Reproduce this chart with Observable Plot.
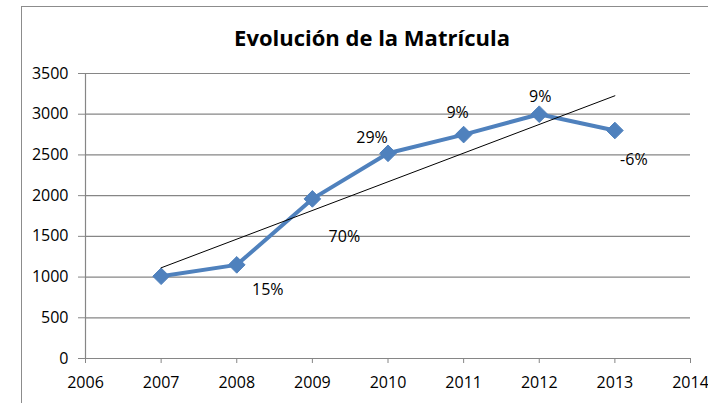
<!DOCTYPE html>
<html>
<head>
<meta charset="utf-8">
<script src="https://cdn.jsdelivr.net/npm/d3@7"></script>
<script src="https://cdn.jsdelivr.net/npm/@observablehq/plot@0.6"></script>
<style>
  html, body { margin: 0; padding: 0; background: #fff; overflow: hidden; }
  #wrap { position: relative; width: 708px; height: 403px; }
  #frame { position: absolute; left: 21px; top: 6px; width: 800px; height: 500px; border: 1px solid #8c8c8c; box-sizing: border-box; }
  #title { position: absolute; left: 0; width: 744px; top: 22px; line-height: 30px; text-align: center; font: bold 22px "Open Sans", sans-serif; color: #000; }
  #chart { position: absolute; left: 0; top: 0; }
</style>
</head>
<body>
<div id="wrap">
  <div id="frame"></div>
  <div id="title">Evolución de la Matrícula</div>
  <div id="chart"></div>
</div>
<script>
const years = [2007, 2008, 2009, 2010, 2011, 2012, 2013];
const enrollment = [1010, 1150, 1960, 2520, 2750, 3000, 2800];
const growthLabels = ["", "15%", "70%", "29%", "9%", "9%", "-6%"];
const xTicks = [2006, 2007, 2008, 2009, 2010, 2011, 2012, 2013, 2014];
const yTicks = [0, 500, 1000, 1500, 2000, 2500, 3000, 3500];

// label offsets (px) relative to each point — styling only
const labelDx = [0, 31, 32, -16, -6, 1, 19];
const labelDy = [0, 25, 38, -15, -22, -17, 29];

const data = years.map((y, i) => ({year: y, value: enrollment[i], label: growthLabels[i], dx: labelDx[i], dy: labelDy[i]}));

const font = "Open Sans, sans-serif";
const blue = "#4f81bd";

const chart = Plot.plot({
  width: 708,
  height: 403,
  marginLeft: 85,
  marginRight: 18,
  marginTop: 73,
  marginBottom: 45,
  style: {background: "transparent", fontFamily: font, fontSize: "16px", color: "#000", overflow: "visible"},
  x: {domain: [2006, 2014], label: null},
  y: {domain: [0, 3500], label: null},
  marks: [
    Plot.ruleY(yTicks.filter(d => d > 0), {stroke: "#868686", strokeWidth: 1.2}),
    Plot.axisY({ticks: yTicks, tickFormat: d => String(d), tickSize: 7, tickPadding: 10, stroke: "#868686", fill: "#000", fontSize: 16, label: null}),
    Plot.axisX({ticks: xTicks, tickFormat: d => String(d), tickSize: 5, tickPadding: 13, stroke: "#868686", fill: "#000", fontSize: 16, label: null}),
    Plot.ruleX([2006], {stroke: "#868686", strokeWidth: 1.2}),
    Plot.ruleY([0], {stroke: "#868686", strokeWidth: 1.2}),
    Plot.line(data, {x: "year", y: "value", stroke: blue, strokeWidth: 4, strokeLinejoin: "round"}),
    Plot.dot(data, {x: "year", y: "value", symbol: "diamond2", r: 7.5, fill: blue, stroke: blue, strokeWidth: 1}),
    Plot.linearRegressionY(data, {x: "year", y: "value", ci: 0, stroke: "#000", strokeWidth: 1}),
    ...data.filter(d => d.label).map(d =>
      Plot.text([d], {x: "year", y: "value", text: "label", dx: d.dx, dy: d.dy, fill: "#000", fontSize: 16, fontFamily: font})
    )
  ]
});
document.getElementById("chart").appendChild(chart);
</script>
</body>
</html>
